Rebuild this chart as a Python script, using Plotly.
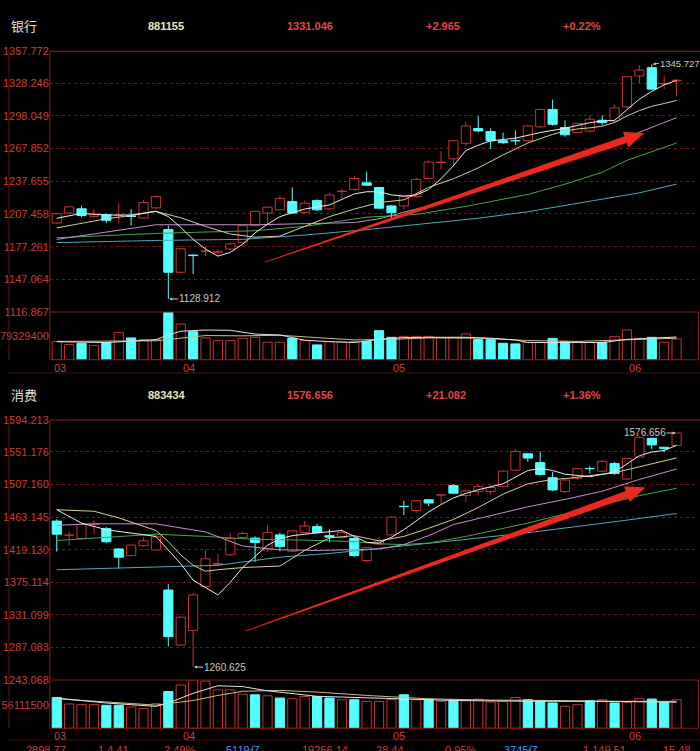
import math
import plotly.graph_objects as go

W, H = 700, 751

# colours
up_red = 'rgb(200,50,50)'
down_cyan = 'rgb(84,255,255)'
label_red = 'rgb(205,60,60)'
frame_red = 'rgb(135,28,28)'
grid_red = 'rgb(105,28,28)'
ma_colors = ['rgb(235,235,235)', 'rgb(215,205,160)', 'rgb(200,140,205)',
             'rgb(70,165,80)', 'rgb(80,165,185)']
arrow_red = 'rgb(235,40,30)'

days = list(range(51))
month_labels = ['03', '04', '05', '06']
month_pos = [0, 10, 27, 46]

# ---------------- 银行 881155 ----------------
bank_open = [1199.1, 1208.3, 1212.2, 1205.2, 1206.7, 1205.9, 1205.5, 1203.7, 1213.1, 1193.1,
             1153.6, 1169.5, 1172.9, 1172.0, 1175.1, 1180.9, 1196.7, 1208.3, 1211.3, 1218.9,
             1208.9, 1219.8, 1212.2, 1228.2, 1230.1, 1236.2, 1231.9, 1214.9, 1214.9, 1223.5,
             1240.2, 1255.0, 1258.4, 1272.7, 1286.3, 1283.6, 1275.1, 1275.4, 1275.1, 1287.9,
             1304.0, 1287.3, 1282.7, 1284.0, 1294.0, 1293.4, 1306.4, 1335.0, 1342.6, 1327.6,
             1330.5]
bank_high = [1208.5, 1214.5, 1215.2, 1212.2, 1207.6, 1217.4, 1212.2, 1220.4, 1225.0, 1196.7,
             1176.0, 1170.0, 1177.3, 1174.8, 1181.5, 1197.5, 1210.5, 1214.3, 1224.1, 1232.0,
             1219.8, 1221.0, 1227.1, 1230.1, 1242.9, 1246.6, 1232.5, 1215.5, 1224.1, 1241.1,
             1256.9, 1265.4, 1276.0, 1292.7, 1297.9, 1286.6, 1282.7, 1284.8, 1290.0, 1305.0,
             1313.1, 1294.0, 1292.0, 1297.9, 1298.5, 1308.5, 1335.0, 1345.0, 1345.727, 1335.3,
             1332.0]
bank_low = [1198.0, 1207.8, 1204.6, 1203.7, 1199.1, 1199.1, 1196.7, 1203.0, 1212.0, 1128.912,
            1153.0, 1152.0, 1168.8, 1168.8, 1174.0, 1180.0, 1196.0, 1199.1, 1211.0, 1208.0,
            1208.0, 1210.0, 1211.5, 1221.9, 1229.0, 1233.2, 1212.0, 1203.7, 1211.9, 1222.9,
            1239.5, 1248.4, 1251.4, 1270.6, 1283.0, 1267.5, 1272.0, 1271.2, 1274.0, 1287.0,
            1289.0, 1278.8, 1282.0, 1282.7, 1289.4, 1292.0, 1305.0, 1328.3, 1322.0, 1322.8,
            1316.1]
bank_close = [1207.7, 1214.0, 1206.1, 1206.7, 1201.6, 1206.3, 1205.1, 1218.0, 1223.5, 1153.6,
              1175.4, 1169.0, 1173.4, 1172.5, 1179.8, 1196.7, 1209.8, 1213.7, 1221.9, 1208.3,
              1217.4, 1211.3, 1225.0, 1228.6, 1240.2, 1234.1, 1212.8, 1208.9, 1223.5, 1239.3,
              1255.4, 1255.4, 1275.1, 1288.8, 1284.2, 1275.1, 1273.3, 1275.0, 1288.8, 1304.0,
              1290.3, 1280.6, 1290.9, 1295.0, 1291.8, 1305.5, 1334.3, 1340.4, 1322.8, 1328.1,
              1331.046]
bank_vol = [62.3, 52.1, 56.5, 48.7, 58.9, 93.9, 74.9, 69.1, 69.1, 162.0,
            122.5, 96.3, 74.9, 65.7, 65.7, 73.5, 76.9, 59.9, 59.9, 73.5,
            65.7, 51.0, 62.3, 62.3, 62.3, 62.3, 99.7, 76.9, 80.3, 80.3,
            80.3, 76.9, 76.9, 88.5, 69.1, 69.1, 56.5, 54.4, 59.9, 59.9,
            73.5, 62.3, 62.3, 59.9, 59.9, 79.3, 102.1, 73.5, 76.9, 59.9,
            71.5]  # millions

bank_ma5_x = [0, 2, 4, 6, 8, 9, 10, 11, 12, 13, 14, 15, 16, 17, 18, 20, 22, 24, 25, 26, 27,
              28, 29, 30, 31, 32, 33, 34, 35, 37, 39, 40, 41, 43, 44, 45, 46, 47, 48, 49, 50]
bank_ma5 = [1203.5, 1208, 1206.5, 1206.5, 1210, 1205, 1195, 1184, 1175, 1168.5, 1172, 1179.5,
            1190, 1198, 1205, 1212, 1215.8, 1226, 1228, 1228, 1225, 1224, 1225, 1230, 1240,
            1252, 1266, 1271, 1275, 1277.5, 1282.7, 1284.8, 1286.7, 1291.8, 1293.3, 1294,
            1304, 1313.5, 1320.7, 1326.8, 1330.8]
bank_ma10_x = [0, 2, 4, 6, 8, 10, 12, 14, 16, 18, 20, 22, 24, 26, 28, 30, 32, 34, 36, 38, 39,
               40, 41, 42, 43, 44, 45, 46, 47, 48, 49, 50]
bank_ma10 = [1194.6, 1199, 1203, 1206, 1209.8, 1204, 1196, 1189, 1186, 1187, 1196, 1205, 1212,
             1218, 1220.5, 1232, 1240, 1250, 1262, 1273, 1277, 1281, 1284, 1286, 1287, 1288.5,
             1292, 1298, 1303, 1307, 1309.5, 1312.4]
bank_ma20_x = [0, 4, 8, 12, 16, 20, 24, 26, 28, 30, 32, 34, 38, 42, 45, 47, 50]
bank_ma20 = [1184, 1191, 1197.5, 1197.5, 1197.5, 1198.5, 1199.5, 1203, 1209, 1215, 1222, 1230,
             1246, 1262, 1273, 1283, 1296.4]
bank_ma30_x = [0, 8, 16, 20, 25, 29, 33, 38, 41, 44, 46, 48, 50]
bank_ma30 = [1185.5, 1189.5, 1192, 1196, 1204.5, 1207, 1214.5, 1225.5, 1235, 1246, 1257, 1265,
             1273]
bank_ma60_x = [0, 8, 15, 20, 25, 30, 34, 38, 43, 47, 50]
bank_ma60 = [1181, 1183, 1184, 1188, 1193, 1199, 1203.5, 1209.5, 1219, 1227, 1235]

bank_vma_a_x = [0, 4, 8, 9, 10, 12, 14, 16, 18, 20, 22, 24, 26, 28, 30, 33, 35, 37, 38, 44, 46, 50]
bank_vma_a = [62, 59, 69, 85, 98, 102, 101, 88, 85, 67, 62, 59, 70, 76, 77, 77, 74, 68, 59, 59,
              70, 78]
bank_vma_b_x = [0, 8, 10, 12, 15, 18, 21, 24, 27, 30, 34, 38, 42, 46, 50]
bank_vma_b = [63, 65, 74, 83, 82, 84, 76, 68, 70, 75, 74, 66, 63, 68, 74]

bank_ticks = [1357.772, 1328.246, 1298.049, 1267.852, 1237.655, 1207.458, 1177.261,
              1147.064, 1116.867]
bank_vol_tick = 79329400

# ---------------- 消费 883434 ----------------
cons_open = [1457.7, 1438.5, 1434.2, 1453.0, 1447.5, 1420.1, 1411.2, 1424.5, 1418.7, 1364.6,
             1290.2, 1310.1, 1369.1, 1399.2, 1412.1, 1435.6, 1434.7, 1418.8, 1439.1, 1417.0,
             1442.2, 1450.2, 1438.0, 1435.6, 1434.2, 1404.5, 1426.7, 1439.1, 1477.7, 1471.9,
             1486.5, 1492.8, 1505.6, 1492.3, 1497.6, 1497.6, 1504.3, 1526.4, 1548.6, 1536.6,
             1516.2, 1497.6, 1515.3, 1528.8, 1525.1, 1535.3, 1514.5, 1544.2, 1569.4, 1557.4,
             1559.7]
cons_high = [1460.0, 1443.6, 1455.5, 1458.6, 1449.8, 1421.0, 1426.0, 1435.6, 1440.0, 1372.6,
             1329.0, 1361.1, 1418.7, 1413.4, 1440.9, 1443.5, 1437.0, 1452.0, 1442.0, 1446.0,
             1458.0, 1454.2, 1446.6, 1446.6, 1436.5, 1423.0, 1436.5, 1464.4, 1485.2, 1486.0,
             1487.0, 1494.1, 1507.4, 1499.5, 1506.5, 1506.5, 1526.0, 1555.2, 1549.0, 1551.7,
             1524.2, 1514.0, 1530.0, 1532.2, 1540.0, 1537.5, 1543.0, 1572.0, 1570.0, 1557.8,
             1576.656]
cons_low = [1416.5, 1424.5, 1433.0, 1440.0, 1428.0, 1393.5, 1410.0, 1423.0, 1418.0, 1288.4,
            1289.0, 1260.625, 1368.0, 1397.0, 1411.0, 1435.0, 1402.3, 1416.0, 1417.0, 1416.0,
            1441.0, 1441.0, 1428.9, 1434.0, 1409.0, 1402.3, 1425.0, 1438.0, 1465.7, 1468.8,
            1477.7, 1480.8, 1494.0, 1483.4, 1492.3, 1493.0, 1503.0, 1525.0, 1537.5, 1519.0,
            1498.0, 1495.4, 1513.1, 1522.0, 1524.0, 1520.0, 1513.0, 1543.0, 1554.4, 1550.8,
            1559.0]
cons_close = [1440.0, 1439.0, 1453.3, 1453.5, 1429.8, 1409.0, 1425.4, 1431.1, 1436.5, 1301.7,
              1327.9, 1358.0, 1406.8, 1400.5, 1434.2, 1440.9, 1428.9, 1442.2, 1423.2, 1444.4,
              1451.1, 1442.2, 1436.0, 1442.2, 1411.2, 1422.3, 1431.1, 1463.1, 1477.2, 1485.2,
              1482.1, 1493.2, 1495.4, 1498.5, 1504.3, 1503.0, 1525.1, 1551.7, 1542.8, 1520.7,
              1499.8, 1513.1, 1528.6, 1528.4, 1538.4, 1522.0, 1542.0, 1570.8, 1560.6, 1555.6,
              1576.656]
cons_vol = [73.2, 57.7, 56.1, 56.1, 54.5, 54.5, 50.7, 46.8, 58.5, 87.2,
            102.9, 114.6, 112.2, 91.2, 91.2, 81.1, 79.5, 77.2, 71.8, 70.1,
            75.5, 75.5, 71.8, 67.8, 67.8, 63.8, 63.8, 67.8, 79.5, 67.8,
            69.4, 63.8, 67.8, 65.5, 69.4, 62.4, 63.8, 73.2, 67.8, 65.5,
            60.1, 52.1, 56.1, 65.5, 67.8, 60.1, 61.5, 70.1, 69.4, 61.5,
            67.8]  # millions

cons_ma5_x = [0, 2, 4, 6, 8, 10, 11, 13, 14, 15, 16, 17, 18, 19, 20, 22, 23, 24, 25, 26, 27,
              28, 29, 30, 31, 32, 33, 34, 36, 38, 39, 40, 41, 43, 45, 46, 47, 48, 49, 50]
cons_ma5 = [1473, 1455, 1446, 1441, 1437, 1400, 1378, 1358, 1375, 1395, 1410, 1425, 1434, 1438,
            1440, 1444, 1445, 1437, 1429, 1428, 1436, 1446, 1458, 1470, 1480, 1489, 1495, 1500,
            1508, 1526, 1528.6, 1526, 1521, 1517.6, 1524, 1535, 1546, 1551, 1553, 1560]
cons_ma10_x = [0, 3, 5, 8, 9, 10, 11, 12, 13, 15, 18, 20, 22, 24, 26, 28, 30, 32, 34, 36, 38,
               40, 41, 43, 45, 47, 48, 49, 50]
cons_ma10 = [1473, 1471, 1462, 1445, 1430, 1412, 1398, 1390, 1392, 1395, 1397, 1418, 1435, 1438,
             1431, 1437, 1448, 1460, 1476, 1494, 1508, 1514, 1515, 1518.5, 1523, 1531, 1535,
             1539, 1543]
cons_ma20_x = [0, 3, 8, 12, 15, 18, 21, 24, 26, 28, 30, 32, 35, 38, 41, 44, 47, 50]
cons_ma20 = [1452, 1454, 1454, 1443, 1424, 1419, 1418, 1419, 1420, 1426, 1438, 1453, 1465, 1477,
             1487, 1498, 1514, 1528]
cons_ma30_x = [0, 4, 8, 12, 16, 20, 24, 26, 28, 30, 33, 38, 41, 44, 47, 50]
cons_ma30 = [1431.5, 1436, 1440, 1437, 1433, 1432, 1430, 1427, 1426, 1428, 1437, 1455, 1467,
             1480, 1492, 1502]
cons_ma60_x = [0, 8, 13, 18, 22, 25, 28, 33, 38, 42, 46, 50]
cons_ma60 = [1392, 1395.7, 1398, 1409, 1414, 1419, 1424, 1433, 1442, 1450, 1459, 1468]

cons_vma_a_x = [0, 4, 8, 9, 11, 13, 15, 17, 21, 25, 32, 39, 44, 50]
cons_vma_a = [71.7, 60, 52, 60, 83, 101, 99, 89, 76, 72, 66, 64, 64, 62]
cons_vma_b_x = [0, 4, 8, 11, 13, 15, 18, 21, 25, 30, 35, 40, 45, 50]
cons_vma_b = [70, 62, 55, 66, 78, 88, 90, 86, 78, 70, 67, 66, 64, 64]

cons_ticks = [1594.213, 1551.176, 1507.160, 1463.145, 1419.130, 1375.114, 1331.099,
              1287.083, 1243.068]
cons_vol_tick = 56111500

# bottom status row (cut off by the window edge in the screenshot)
status_texts = ['2898.77', '1.4.41', '2.49%', '5119亿', '19256.14', '28.44', '0.95%',
                '3745亿', '1.149.51', '15.48']
status_x = [16, 89, 156, 219, 295, 370, 440, 500, 580, 661]
status_blue = [False, False, False, True, False, False, False, True, False, False]


def fx(p):
    return p / W


def fy(p):
    return 1 - p / H


fig = go.Figure()


def add_candles(o, h, l, c, yref):
    up = [ci >= oi for oi, ci in zip(o, c)]
    fig.add_trace(go.Bar(
        x=days, base=[min(a, b) for a, b in zip(o, c)],
        y=[max(abs(b - a), 0.3) for a, b in zip(o, c)], width=0.74,
        marker=dict(color=['black' if u else down_cyan for u in up],
                    line=dict(color=[up_red if u else down_cyan for u in up], width=1)),
        yaxis=yref, hoverinfo='skip'))
    for flag, col in ((True, up_red), (False, down_cyan)):
        xs, ys = [], []
        for i in days:
            if up[i] != flag:
                continue
            xs += [i, i, None, i, i, None]
            ys += [h[i], max(o[i], c[i]), None, min(o[i], c[i]), l[i], None]
        fig.add_trace(go.Scatter(x=xs, y=ys, mode='lines', line=dict(color=col, width=1),
                                 yaxis=yref, hoverinfo='skip'))
    return up


def add_volume(vol, up, yref):
    fig.add_trace(go.Bar(
        x=days, y=[v * 1e6 for v in vol], width=0.74,
        marker=dict(color=['black' if u else down_cyan for u in up],
                    line=dict(color=[up_red if u else down_cyan for u in up], width=1)),
        yaxis=yref, hoverinfo='skip'))


def add_line(xs, ys, color, yref, scale=1.0):
    fig.add_trace(go.Scatter(x=xs, y=[v * scale for v in ys], mode='lines',
                             line=dict(color=color, width=1), yaxis=yref, hoverinfo='skip'))


bank_up = add_candles(bank_open, bank_high, bank_low, bank_close, 'y')
for xs, ys, col in zip([bank_ma60_x, bank_ma30_x, bank_ma20_x, bank_ma10_x, bank_ma5_x],
                       [bank_ma60, bank_ma30, bank_ma20, bank_ma10, bank_ma5],
                       ma_colors[::-1]):
    add_line(xs, ys, col, 'y')
add_volume(bank_vol, bank_up, 'y2')
add_line(bank_vma_b_x, bank_vma_b, 'rgb(200,190,140)', 'y2', 1e6)
add_line(bank_vma_a_x, bank_vma_a, 'rgb(225,225,225)', 'y2', 1e6)

cons_up = add_candles(cons_open, cons_high, cons_low, cons_close, 'y3')
for xs, ys, col in zip([cons_ma60_x, cons_ma30_x, cons_ma20_x, cons_ma10_x, cons_ma5_x],
                       [cons_ma60, cons_ma30, cons_ma20, cons_ma10, cons_ma5],
                       ma_colors[::-1]):
    add_line(xs, ys, col, 'y3')
add_volume(cons_vol, cons_up, 'y4')
add_line(cons_vma_b_x, cons_vma_b, 'rgb(200,190,140)', 'y4', 1e6)
add_line(cons_vma_a_x, cons_vma_a, 'rgb(225,225,225)', 'y4', 1e6)

# panel geometry (pixels)
left, right = 42.3, 698.5
panels = [dict(top=46, sep=311, bottom=359.5, rule=373, header=20),
          dict(top=420.7, sep=685, bottom=734, rule=746, header=395)]

tick_font = dict(family='Liberation Sans Narrow, Liberation Sans, Arial', size=11, color=label_red)


def price_axis(p, ticks):
    return dict(domain=[fy(p['sep']), fy(p['top'])], range=[ticks[-1], ticks[0]],
                tickvals=ticks, ticktext=[f'{t:.3f}' for t in ticks], tickfont=tick_font,
                showgrid=True, gridcolor=grid_red, griddash='dot', gridwidth=1,
                zeroline=False, showline=False, ticks='', anchor='x', fixedrange=True)


def vol_axis(p, tick, vmax):
    return dict(domain=[fy(p['bottom']), fy(p['sep'])], range=[0, vmax],
                tickvals=[tick], ticktext=[str(tick)], tickfont=tick_font,
                showgrid=False, zeroline=False, showline=False, ticks='', anchor='x',
                fixedrange=True)


fig.update_layout(
    width=W, height=H, margin=dict(l=0, r=0, t=0, b=0),
    paper_bgcolor='black', plot_bgcolor='black', showlegend=False, barmode='overlay',
    xaxis=dict(domain=[fx(left), fx(right)], range=[-0.56, 51.77], visible=False,
               fixedrange=True),
    yaxis=price_axis(panels[0], bank_ticks),
    yaxis2=vol_axis(panels[0], bank_vol_tick, bank_vol_tick * 48.5 / 23.5),
    yaxis3=price_axis(panels[1], cons_ticks),
    yaxis4=vol_axis(panels[1], cons_vol_tick, cons_vol_tick * 49 / 24),
)

shapes = []
for p in panels:
    line = dict(color=frame_red, width=1)
    shapes += [
        dict(type='line', xref='paper', yref='paper', x0=fx(left), x1=1,
             y0=fy(p['top']), y1=fy(p['top']), line=line),
        dict(type='line', xref='paper', yref='paper', x0=fx(left), x1=fx(right),
             y0=fy(p['sep']), y1=fy(p['sep']), line=line),
        dict(type='line', xref='paper', yref='paper', x0=fx(left), x1=fx(right),
             y0=fy(p['bottom']), y1=fy(p['bottom']), line=line),
        dict(type='line', xref='paper', yref='paper', x0=fx(left), x1=fx(left),
             y0=fy(p['bottom']), y1=fy(p['top']), line=line),
        dict(type='line', xref='paper', yref='paper', x0=fx(right), x1=fx(right),
             y0=fy(p['bottom']), y1=fy(p['sep']), line=line),
        dict(type='line', xref='paper', yref='paper', x0=fx(1), x1=fx(1),
             y0=fy(p['bottom']), y1=fy(p['top']), line=dict(color='rgb(90,20,20)', width=1)),
        dict(type='line', xref='paper', yref='paper', x0=0, x1=1,
             y0=fy(p['rule']), y1=fy(p['rule']), line=dict(color='rgb(70,14,14)', width=1)),
    ]


def arrow_path(x0, y0, x1, y1, sx, sy):
    # tapered red arrow, built in pixel space then mapped back to data units
    X0, Y0, X1, Y1 = x0 * sx, -y0 * sy, x1 * sx, -y1 * sy
    d = math.hypot(X1 - X0, Y1 - Y0)
    ux, uy = (X1 - X0) / d, (Y1 - Y0) / d
    nx, ny = -uy, ux
    head, hw, sw, tw = 20, 8.5, 3.5, 0.4
    bx, by = X1 - ux * head, Y1 - uy * head
    pts = [(X0 + nx * tw, Y0 + ny * tw), (bx + nx * sw, by + ny * sw),
           (bx + nx * hw, by + ny * hw), (X1, Y1), (bx - nx * hw, by - ny * hw),
           (bx - nx * sw, by - ny * sw), (X0 - nx * tw, Y0 - ny * tw)]
    return 'M ' + ' L '.join(f'{X / sx:.4f},{-Y / sy:.4f}' for X, Y in pts) + ' Z'


sx = (right - left) / (51.77 + 0.56)
sy_bank = (panels[0]['sep'] - panels[0]['top']) / (bank_ticks[0] - bank_ticks[-1])
sy_cons = (panels[1]['sep'] - panels[1]['top']) / (cons_ticks[0] - cons_ticks[-1])
shapes.append(dict(type='path', xref='x', yref='y', line=dict(width=0), fillcolor=arrow_red,
                   path=arrow_path(16.8, 1163, 47.4, 1282, sx, sy_bank)))
shapes.append(dict(type='path', xref='x', yref='y3', line=dict(width=0), fillcolor=arrow_red,
                   path=arrow_path(15.2, 1309, 47.5, 1503, sx, sy_cons)))
fig.update_layout(shapes=shapes)

num_font = 'Liberation Sans, Arial'
ann = []
headers = [('银行', '881155', '1331.046', '+2.965', '+0.22%'),
           ('消费', '883434', '1576.656', '+21.082', '+1.36%')]
for p, hd in zip(panels, headers):
    y = fy(p['header'])
    ann.append(dict(text=hd[0], x=fx(1), y=y, font=dict(family='Noto Sans CJK SC', size=13,
                                                        color='rgb(225,225,225)')))
    ann.append(dict(text=f'<b>{hd[1]}</b>', x=fx(140), y=y,
                    font=dict(family=num_font, size=11, color='rgb(235,230,185)')))
    for txt, xp in zip(hd[2:], (280, 421, 559)):
        ann.append(dict(text=f'<b>{txt}</b>', x=fx(xp), y=y,
                        font=dict(family=num_font, size=11, color='rgb(225,70,70)')))
    for lab, pos in zip(month_labels, month_pos):
        ann.append(dict(text=lab, x=pos, xref='x', y=fy(p['bottom'] + 8), xshift=-5 if pos == 0 else 0,
                        font=dict(family=num_font, size=11, color=label_red)))
for a in ann:
    a.setdefault('xref', 'paper')
    a.update(yref='paper', xanchor='left', yanchor='middle', showarrow=False)

extreme_font = dict(family=num_font, size=10, color='rgb(200,200,200)')
ann += [
    dict(x=9, y=bank_low[9], xref='x', yref='y', text=f'{bank_low[9]:.3f}', ax=10, ay=0,
         xanchor='left', font=extreme_font),
    dict(x=48, y=bank_high[48], xref='x', yref='y', text=f'{bank_high[48]:.3f}', ax=7, ay=-1,
         xanchor='left', font=dict(family=num_font, size=9.5, color='rgb(200,200,200)')),
    dict(x=11, y=cons_low[11], xref='x', yref='y3', text=f'{cons_low[11]:.3f}', ax=10, ay=0,
         xanchor='left', font=extreme_font),
    dict(x=50, y=cons_high[50], xref='x', yref='y3', text=f'{cons_high[50]:.3f}', ax=-10, ay=0,
         xanchor='right', font=extreme_font),
]
for a in ann[-4:]:
    a.update(showarrow=True, arrowhead=2, arrowsize=0.6, arrowwidth=1,
             arrowcolor='rgb(200,200,200)', standoff=1, yanchor='middle', borderpad=0)

for txt, xp, blue in zip(status_texts, status_x, status_blue):
    ann.append(dict(text=txt, x=fx(xp), y=fy(748), xref='paper', yref='paper',
                    xanchor='left', yanchor='top', showarrow=False,
                    font=dict(family=num_font, size=11,
                              color='rgb(90,140,255)' if blue else 'rgb(210,60,60)')))

fig.update_layout(annotations=ann)
fig.write_html("out.html", config={'displayModeBar': False},
               post_script="document.body.style.margin='0';document.body.style.padding='0';"
                           "document.body.style.background='black';"
                           "document.documentElement.style.overflow='hidden';")
